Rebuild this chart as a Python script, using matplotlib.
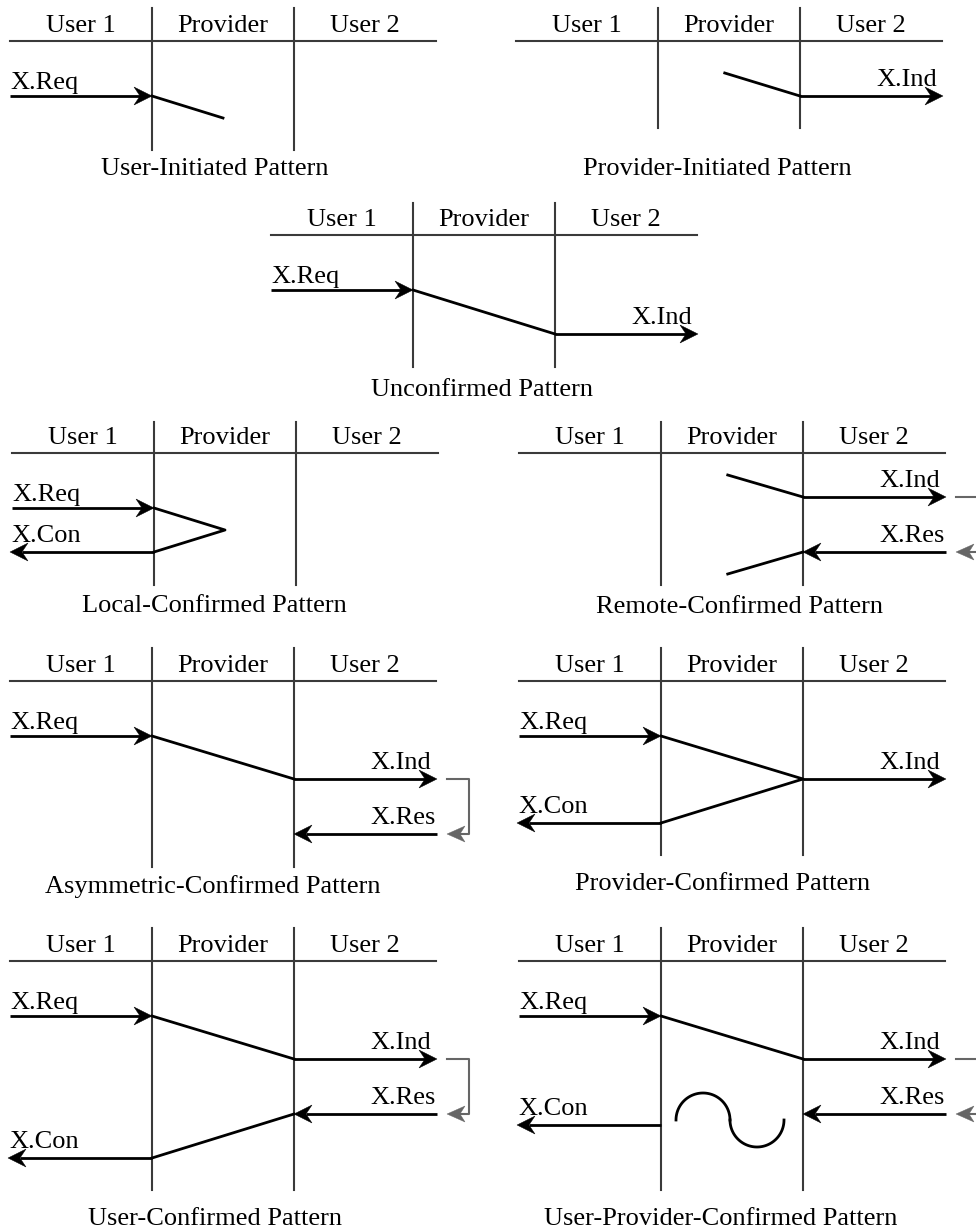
import numpy as np
import matplotlib
matplotlib.use("Agg")
import matplotlib.pyplot as plt
from matplotlib.patches import Polygon

plt.rcParams['font.family'] = ['Liberation Serif', 'DejaVu Serif']

# --- data ---
lanes = ["User 1", "Provider", "User 2"]
pattern_names = [
    "User-Initiated Pattern", "Provider-Initiated Pattern", "Unconfirmed Pattern",
    "Local-Confirmed Pattern", "Remote-Confirmed Pattern",
    "Asymmetric-Confirmed Pattern", "Provider-Confirmed Pattern",
    "User-Confirmed Pattern", "User-Provider-Confirmed Pattern",
]
pattern_msgs = [
    ["X.Req"], ["X.Ind"], ["X.Req", "X.Ind"], ["X.Req", "X.Con"], ["X.Ind", "X.Res"],
    ["X.Req", "X.Ind", "X.Res"], ["X.Req", "X.Ind", "X.Con"],
    ["X.Req", "X.Ind", "X.Res", "X.Con"], ["X.Req", "X.Ind", "X.Res", "X.Con"],
]

# --- layout (pixels) ---
LANE = 142
layout = [
    dict(x0=10, top=8, head=41, bottom=150, cap=175, cdx=-8),
    dict(x0=516, top=8, head=41, bottom=128, cap=175, cdx=-12),
    dict(x0=271, top=203, head=235, bottom=367, cap=396, cdx=-2),
    dict(x0=12, top=422, head=453, bottom=585, cap=612, cdx=-11),
    dict(x0=519, top=422, head=453, bottom=585, cap=613, cdx=8),
    dict(x0=10, top=648, head=681, bottom=867, cap=893, cdx=-10),
    dict(x0=519, top=648, head=681, bottom=855, cap=890, cdx=-9),
    dict(x0=10, top=928, head=961, bottom=1190, cap=1225, cdx=-8),
    dict(x0=519, top=928, head=961, bottom=1190, cap=1225, cdx=-11),
]
# row offset below the header line for every message
rows = [
    {"X.Req": 55}, {"X.Ind": 55}, {"X.Req": 55, "X.Ind": 99},
    {"X.Req": 55, "X.Con": 99}, {"X.Ind": 44, "X.Res": 99},
    {"X.Req": 55, "X.Ind": 98, "X.Res": 153},
    {"X.Req": 55, "X.Ind": 98, "X.Con": 142},
    {"X.Req": 55, "X.Ind": 98, "X.Res": 153, "X.Con": 197},
    {"X.Req": 55, "X.Ind": 98, "X.Res": 153, "X.Con": 164},
]
# provider paths in (lane units, row offset)
paths = [
    [[(1, 55), (1.5, 77)]],
    [[(1.47, 32), (2, 55)]],
    [[(1, 55), (2, 99)]],
    [[(1, 55), (1.5, 77), (1, 99)]],
    [[(1.47, 22), (2, 44)], [(2, 99), (1.47, 121)]],
    [[(1, 55), (2, 98)]],
    [[(1, 55), (2, 98), (1, 142)]],
    [[(1, 55), (2, 98)], [(2, 153), (1, 197)]],
    [[(1, 55), (2, 98)]],
]

FS = 19
LANE_C = '#3a3a3a'
GRAY = '#666666'


def head(ax, tip, y, d, color, L=18, W=9, notch=6):
    pts = [(tip, y), (tip - d * L, y - W), (tip - d * (L - notch), y), (tip - d * L, y + W)]
    ax.add_patch(Polygon(pts, closed=True, fc=color, ec=color, lw=0.3, zorder=4))


def arrow(ax, x1, x2, y, color='black', lw=2.0):
    d = 1 if x2 > x1 else -1
    ax.plot([x1, x2 - d * 12], [y, y], color=color, lw=lw, solid_capstyle='butt', zorder=3)
    head(ax, x2, y, d, color)


fig = plt.figure(figsize=(9.76, 12.32), dpi=100)
ax = fig.add_axes([0, 0, 1, 1])
ax.set_xlim(0, 976)
ax.set_ylim(1232, 0)
ax.axis('off')

for i, name in enumerate(pattern_names):
    p = layout[i]
    x0, hy = p['x0'], p['head']
    # lane header
    ax.plot([x0, x0 + 3 * LANE], [hy, hy], color=LANE_C, lw=1.5)
    for k in (1, 2):
        ax.plot([x0 + k * LANE, x0 + k * LANE], [p['top'], p['bottom']], color=LANE_C, lw=1.5)
    for k, lab in enumerate(lanes):
        ax.text(x0 + (k + 0.5) * LANE, hy - 9, lab, ha='center', va='baseline', fontsize=FS)
    ax.text(x0 + 1.5 * LANE + p['cdx'], p['cap'], name, ha='center', va='baseline', fontsize=FS)

    # messages
    r = rows[i]
    for m in pattern_msgs[i]:
        y = hy + r[m]
        if m == "X.Req":
            arrow(ax, x0, x0 + LANE, y)
            ax.text(x0, y - 7, m, ha='left', va='baseline', fontsize=FS)
        elif m == "X.Ind":
            arrow(ax, x0 + 2 * LANE, x0 + 3 * LANE + 1, y)
            ax.text(x0 + 3 * LANE - 5, y - 10, m, ha='right', va='baseline', fontsize=FS)
        elif m == "X.Res":
            arrow(ax, x0 + 3 * LANE + 1, x0 + 2 * LANE, y)
            ax.text(x0 + 3 * LANE, y - 10, m, ha='right', va='baseline', fontsize=FS)
        elif m == "X.Con":
            arrow(ax, x0 + LANE, x0 - 2, y)
            ax.text(x0 - 1, y - 10, m, ha='left', va='baseline', fontsize=FS)

    # provider paths
    for seg in paths[i]:
        xs = [x0 + u * LANE for u, _ in seg]
        ys = [hy + v for _, v in seg]
        ax.plot(xs, ys, color='black', lw=2.0, zorder=3)

    # user 2 turnaround bracket
    if "X.Res" in r:
        yi, yr = hy + r["X.Ind"], hy + r["X.Res"]
        bx1, bx2 = x0 + 3 * LANE + 11, x0 + 3 * LANE + 33
        ax.plot([bx1, bx2, bx2, bx1 + 12], [yi, yi, yr, yr], color=GRAY, lw=1.5, zorder=3)
        head(ax, bx1, yr, -1, GRAY, L=18, W=8, notch=5)

# provider-side wait symbol
p = layout[8]
cx = p['x0'] + 1.5 * LANE - 2
cy = p['head'] + 159
rad = 27
t = np.linspace(np.pi, 0, 60)
ax.plot(cx - rad + rad * np.cos(t), cy - rad * np.sin(t), color='black', lw=2.0)
t2 = np.linspace(np.pi, 2 * np.pi, 60)
ax.plot(cx + rad + rad * np.cos(t2), cy - rad * np.sin(t2), color='black', lw=2.0)

fig.savefig("out.png", dpi=100)
